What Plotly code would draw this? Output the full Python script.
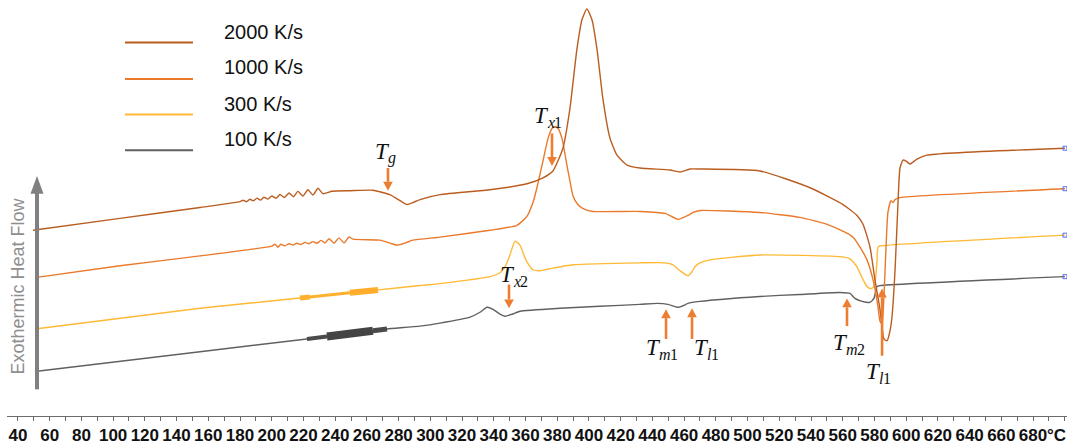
import numpy as np
import plotly.graph_objects as go

# ---------------- data: DSC heating traces (temperature in °C, heat flow in a.u.) ----------------
T_2000 = [49.5, 104.3, 154.8, 180.0, 181.9, 184.1, 186.3, 188.5, 190.7, 192.9, 195.1, 197.6,
          200.1, 202.7, 205.2, 208.0, 210.9, 213.7, 216.5, 219.7, 222.8, 226.0, 229.2, 232.3,
          238.0, 249.3, 263.8, 268.2, 274.5, 280.9, 285.3, 289.0, 293.5, 306.1, 337.6, 360.9,
          371.0, 377.3, 383.6, 388.0, 392.4, 395.6, 398.7, 401.9, 405.1, 408.8, 413.3, 417.7,
          424.0, 432.2, 451.1, 457.4, 463.7, 470.0, 507.8, 539.4, 560.2, 569.0, 572.8, 577.2,
          580.3, 583.5, 586.0, 587.9, 589.8, 591.1, 593.0, 594.8, 596.1, 598.0, 599.9, 602.4,
          606.8, 613.1, 700.1]
H_2000 = [188, 200, 211, 217.0, 218.4, 216.9, 219.3, 217.8, 220.5, 218.5, 221.4, 219.5,
          222.7, 220.3, 224.1, 221.1, 225.7, 221.9, 227.3, 222.7, 229.0, 223.6, 230.5, 225.0,
          227.5, 228, 228.5, 227, 224, 218, 214, 216, 219, 224, 229, 235,
          241, 248, 271, 311, 371, 401, 412, 401, 371, 321, 281, 264,
          254, 251, 249, 247, 250, 250, 248, 231, 214, 203, 194, 171,
          138, 108, 78, 76, 86, 101, 148, 214, 251, 259, 258, 255,
          260, 264, 271]

T_1000 = [50.7, 104.3, 154.8, 200.1, 202.0, 203.9, 205.8, 208.3, 210.9, 213.4, 215.9, 218.4,
          221.0, 223.5, 226.0, 228.5, 231.1, 233.6, 236.1, 239.3, 242.4, 245.6, 248.7, 251.2,
          268.2, 274.5, 279.0, 284.0, 289.0, 306.1, 337.6, 354.6, 360.9, 364.7, 367.2, 371.0,
          374.2, 376.7, 378.6, 380.5, 383.0, 386.1, 388.0, 389.9, 393.0, 397.4, 402.5, 432.2,
          448.0, 456.1, 462.4, 465.6, 470.0, 507.8, 533.0, 550.1, 561.4, 566.5, 570.9, 575.3,
          579.1, 582.2, 583.5, 584.8, 586.0, 587.3, 588.5, 590.4, 591.7, 593.0, 596.1, 700.1]
H_1000 = [140, 152, 162, 172, 173.8, 170.8, 173.8, 172.3, 174.3, 172.9, 174.9, 173.6,
          175.7, 174.3, 176.5, 174.8, 177.7, 175.1, 179.4, 174.9, 180.3, 175.2, 181.2, 179,
          178, 175, 173, 175, 178, 181, 188, 193, 202, 216, 231, 258,
          281, 291, 293, 291, 281, 254, 238, 223, 214, 209, 207, 207,
          205, 199, 203, 206, 208, 206, 201, 194, 186, 181, 171, 158,
          138, 111, 96, 93, 121, 171, 206, 218, 216, 219, 221, 230]

T_300 = [50.7, 154.8, 217.8, 224.1, 249.3, 267.0, 293.5, 306.1, 337.6, 343.9, 347.1, 350.2,
         353.4, 356.5, 359.0, 360.9, 364.7, 369.1, 375.4, 389.9, 432.2, 448.0, 453.0, 457.4,
         462.4, 465.0, 466.8, 470.0, 476.3, 507.8, 560.2, 564.6, 569.0, 572.8, 575.3, 577.2,
         579.1, 580.3, 581.6, 582.2, 583.5, 700.1]
H_300 = [88, 109, 119.4, 120.5, 124.7, 127.6, 132, 134, 141, 145, 151, 163,
         177, 173, 163, 156, 148, 147, 149, 153, 155, 155, 153, 147,
         142, 146, 151, 155, 158, 163, 161, 159, 151, 138, 131, 129,
         130, 134, 156, 171, 172, 183]

T_100 = [50.7, 154.8, 222.2, 234.8, 263.8, 272.7, 293.5, 306.1, 325.0, 331.3, 335.7, 339.5,
         343.9, 347.1, 351.5, 356.5, 381.7, 406.9, 432.2, 442.9, 449.8, 456.1, 459.9, 462.4,
         470.0, 507.8, 533.0, 558.3, 564.6, 567.7, 572.2, 577.2, 579.7, 581.6, 583.5, 700.1]
H_100 = [45, 65, 78, 80.5, 86.2, 88, 91, 94, 100, 105, 110, 108,
         103, 101, 103, 106, 109, 111, 113, 114, 113, 110, 112, 114,
         116, 121, 123, 125, 124, 119, 116, 115, 119, 131, 132, 141]

series_names = ["2000 K/s", "1000 K/s", "300 K/s", "100 K/s"]
tick_values = list(range(40, 700, 20))

# characteristic temperatures: (subscript letter, subscript digit, arrow x, tip y, tail y, label x, label y)
marks = [
    ("g", "", 273.3, 228, 251, 274.5, 268),
    ("x", "1", 376.7, 253, 286, 374.8, 304),
    ("x", "2", 349.6, 109, 133, 353.4, 143),
    ("m", "1", 448.6, 108, 78, 445.4, 69),
    ("l", "1", 465.0, 109, 78, 475.7, 69),
    ("m", "2", 562.7, 119, 91, 563.3, 74),
    ("l", "1", 584.8, 129, 61, 584.1, 45),
]

# ---------------- styling ----------------
colors = {"2000 K/s": "#BA5D20", "1000 K/s": "#E97A2C", "300 K/s": "#FFB935", "100 K/s": "#606060"}
arrow_color = "#ED7D31"
W, H = 1069, 445
ML, MR, MT, MB = 7, 2, 0, 24
X_RANGE = [33.1, 701.4]
Y_RANGE = [0, 421]
DEG_PER_PX = (X_RANGE[1] - X_RANGE[0]) / (W - ML - MR)
UNIT_PER_PX = (Y_RANGE[1] - Y_RANGE[0]) / (H - MT - MB)
SERIF = "Liberation Serif"
SUB_WIDTH = {"g": 8, "x": 7, "m": 11, "l": 4}
SUB_KERN = -3   # pulls the subscript under the overhang of the italic T

def px_x(px):
    return (px - ML) / (W - ML - MR)

def px_y(py):
    return (H - MB - py) / (H - MT - MB)

fig = go.Figure()

traces = {"100 K/s": (T_100, H_100), "300 K/s": (T_300, H_300),
          "1000 K/s": (T_1000, H_1000), "2000 K/s": (T_2000, H_2000)}

# thick noisy stretches of the slow scans, drawn over the trace
noise_bands = {
    "100 K/s": [((222.2, 234.8), 4, "#4a4a4a"), ((234.8, 263.8), 8, "#444444"), ((263.8, 272.7), 5, "#4a4a4a")],
    "300 K/s": [((217.8, 224.1), 5, "#FFB02E"), ((224.1, 249.3), 3, "#FFB02E"), ((249.3, 267.0), 6, "#FFAD2A")],
}

for name in ["100 K/s", "300 K/s", "1000 K/s", "2000 K/s"]:
    t, h = traces[name]
    fig.add_trace(go.Scatter(x=t, y=h, mode="lines", name=name,
                             line=dict(color=colors[name], width=1.4, shape="spline", smoothing=0.5),
                             showlegend=False, hoverinfo="skip"))
    for (lo, hi), w, c in noise_bands.get(name, []):
        ta = np.array(t)
        ha = np.array(h)
        m = (ta >= lo - 1e-9) & (ta <= hi + 1e-9)
        fig.add_trace(go.Scatter(x=ta[m], y=ha[m], mode="lines", showlegend=False,
                                 line=dict(color=c, width=w), hoverinfo="skip"))

# small end markers at the right-hand end of each trace
fig.add_trace(go.Scatter(
    x=[traces[n][0][-1] for n in series_names],
    y=[traces[n][1][-1] for n in series_names],
    mode="markers", showlegend=False, hoverinfo="skip",
    marker=dict(symbol="square-open", size=4, color="#5a6cf0", line=dict(width=1, color="#5a6cf0"))))

# ---------------- arrows and transition labels ----------------
HEAD_LEN, HEAD_HALF = 9, 4.8   # arrowhead size in pixels
for sub, digit, x, tip, tail, lx, ly in marks:
    sgn = 1 if tail > tip else -1
    base = tip + sgn * HEAD_LEN * UNIT_PER_PX
    fig.add_shape(type="line", xref="x", yref="y", x0=x, x1=x, y0=tail, y1=base,
                  line=dict(color=arrow_color, width=2.6))
    hw = HEAD_HALF * DEG_PER_PX
    fig.add_shape(type="path", xref="x", yref="y",
                  path=f"M {x - hw} {base} L {x + hw} {base} L {x} {tip} Z",
                  fillcolor=arrow_color, line=dict(color=arrow_color, width=0))
    # T, then an italic subscript letter, then an upright subscript digit
    fig.add_annotation(x=lx, y=ly, xref="x", yref="y", text="T", showarrow=False,
                       xanchor="right", yanchor="middle", borderpad=0, xshift=1,
                       font=dict(family=SERIF, size=23, color="#111111", style="italic"))
    fig.add_annotation(x=lx, y=ly, xref="x", yref="y", text=sub, showarrow=False,
                       xanchor="left", yanchor="middle", borderpad=0, yshift=-7,
                       xshift=SUB_KERN,
                       font=dict(family=SERIF, size=16, color="#111111", style="italic"))
    if digit:
        fig.add_annotation(x=lx, y=ly, xref="x", yref="y", text=digit, showarrow=False,
                           xanchor="left", yanchor="middle", borderpad=0, yshift=-7,
                           xshift=SUB_KERN + SUB_WIDTH[sub],
                           font=dict(family=SERIF, size=16, color="#111111"))

# ---------------- legend drawn as line samples with labels ----------------
leg_line_y = [43, 80, 116, 152]
leg_text_y = [32, 68, 105, 141]
for name, ly, ty in zip(series_names, leg_line_y, leg_text_y):
    fig.add_shape(type="line", xref="paper", yref="paper",
                  x0=px_x(125), x1=px_x(193), y0=px_y(ly), y1=px_y(ly),
                  line=dict(color=colors[name], width=2))
    fig.add_annotation(xref="paper", yref="paper", x=px_x(222), y=px_y(ty), text=name,
                       showarrow=False, xanchor="left", yanchor="middle",
                       font=dict(family="Liberation Sans", size=20, color="#111111"))

# ---------------- heat-flow direction arrow ----------------
fig.add_shape(type="line", xref="paper", yref="paper",
              x0=px_x(37), x1=px_x(37), y0=px_y(394), y1=px_y(192),
              line=dict(color="#808080", width=4))
fig.add_shape(type="path", xref="paper", yref="paper",
              path=f"M {px_x(30.5)} {px_y(196)} L {px_x(43.5)} {px_y(196)} L {px_x(37)} {px_y(178)} Z",
              fillcolor="#808080", line=dict(color="#808080", width=0))
fig.add_annotation(xref="paper", yref="paper", x=px_x(18), y=px_y(290),
                   text="Exothermic Heat Flow", textangle=-90, showarrow=False,
                   xanchor="center", yanchor="middle",
                   font=dict(family="Liberation Sans", size=18, color="#8E8E8E"))

# unit after the last tick label
fig.add_annotation(xref="paper", yref="paper", x=px_x(1056), y=px_y(441), text="°C",
                   showarrow=False, xanchor="center", yanchor="middle",
                   font=dict(family="Liberation Sans", size=17, color="#111111", weight="bold"))

fig.update_layout(
    width=W, height=H, margin=dict(l=ML, r=MR, t=MT, b=MB),
    paper_bgcolor="white", plot_bgcolor="white", showlegend=False,
    xaxis=dict(range=X_RANGE, showgrid=False, zeroline=False, showline=True,
               linecolor="#6b6b6b", linewidth=1, ticks="outside", ticklen=4,
               tickcolor="#6b6b6b", tickvals=tick_values,
               ticktext=[str(v) for v in tick_values],
               tickfont=dict(family="Liberation Sans", size=17, color="#111111", weight="bold"),
               minor=dict(ticks="outside", ticklen=4, dtick=10, tick0=40, tickcolor="#6b6b6b")),
    yaxis=dict(range=Y_RANGE, visible=False),
)

fig.write_html("out.html")
